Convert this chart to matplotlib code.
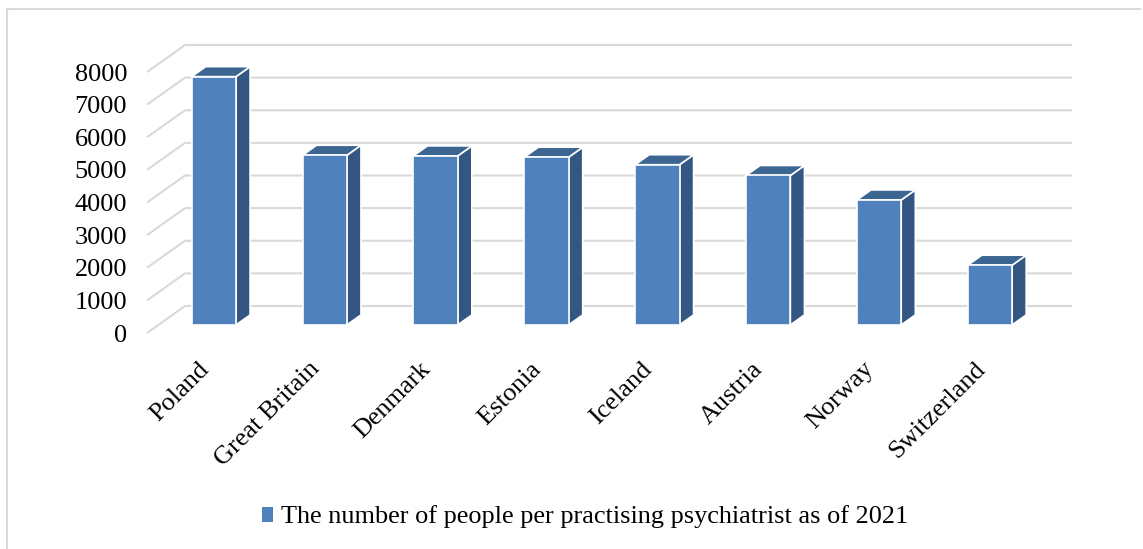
import matplotlib
matplotlib.use('Agg')
import matplotlib.pyplot as plt
from matplotlib.patches import Polygon, Patch
from matplotlib.lines import Line2D

# Data
countries = ["Poland", "Great Britain", "Denmark", "Estonia",
             "Iceland", "Austria", "Norway", "Switzerland"]
people_per_psychiatrist = [7610, 5200, 5180, 5140, 4910, 4580, 3830, 1830]
y_ticks = [0, 1000, 2000, 3000, 4000, 5000, 6000, 7000, 8000]
series_label = "The number of people per practising psychiatrist as of 2021"

# Oblique "3D" projection (Excel-like): depth shifts right (in slots) and up (in values)
DX = 0.343
DY = 828.0
D_FRONT, D_BACK = 0.30, 0.67       # bar depth inside the floor
BAR_LO, BAR_HI = 0.30, 0.70        # bar extent inside a category slot

FRONT = '#4F81BD'
SIDE = '#335683'
TOP = '#3D6592'
GRID = '#D9D9D9'
FONT = 'Liberation Serif'
FS = 18.9


def proj(x, v, d):
    return (x + d * DX, v + d * DY)


W, H = 1143, 549
fig = plt.figure(figsize=(W / 100, H / 100), dpi=100)
ax = fig.add_axes([147 / W, (H - 333) / H, 925 / W, 288 / H])
n = len(countries)
ax.set_xlim(0, n + DX)
ax.set_ylim(0, y_ticks[-1] + DY)
ax.axis('off')

# gridlines: floor diagonals + back wall horizontals
for v in y_ticks:
    x0, y0 = proj(0, v, 0)
    x1, y1 = proj(0, v, 1)
    x2, y2 = proj(n, v, 1)
    ax.add_line(Line2D([x0, x1, x2], [y0, y1, y2], color=GRID, lw=1.5,
                       clip_on=False, solid_capstyle='butt', zorder=1))
    ax.text(-0.18, v, str(v), ha='right', va='center_baseline', fontsize=FS,
            family=FONT, color='black')

# bars
for i, val in enumerate(people_per_psychiatrist):
    xa, xb = i + BAR_LO, i + BAR_HI
    front = [proj(xa, 0, D_FRONT), proj(xb, 0, D_FRONT),
             proj(xb, val, D_FRONT), proj(xa, val, D_FRONT)]
    side = [proj(xb, 0, D_FRONT), proj(xb, 0, D_BACK),
            proj(xb, val, D_BACK), proj(xb, val, D_FRONT)]
    top = [proj(xa, val, D_FRONT), proj(xb, val, D_FRONT),
           proj(xb, val, D_BACK), proj(xa, val, D_BACK)]
    for pts, col in [(side, SIDE), (top, TOP), (front, FRONT)]:
        ax.add_patch(Polygon(pts, closed=True, facecolor=col, edgecolor='white',
                             lw=1.2, joinstyle='round', clip_on=False, zorder=3))

# category labels
for i, name in enumerate(countries):
    ax.text(i + 0.5 + 0.065, -1134, name, rotation=45, rotation_mode='anchor',
            ha='right', va='baseline', fontsize=FS, family=FONT, color='black')

# legend
fig.legend(handles=[Patch(facecolor=FRONT, edgecolor='none', label=series_label)],
           loc='center', bbox_to_anchor=(585 / W, (H - 517) / H), frameon=False,
           prop={'family': FONT, 'size': FS}, handlelength=0.4, handleheight=0.5,
           handletextpad=0.3, borderpad=0)

# chart area border (left and top edges visible)
fig.add_artist(Line2D([7 / W, 7 / W, 1140 / W], [0, (H - 9) / H, (H - 9) / H],
                      transform=fig.transFigure, color=GRID, lw=1.5))

fig.savefig('out.png', dpi=100, facecolor='white')
